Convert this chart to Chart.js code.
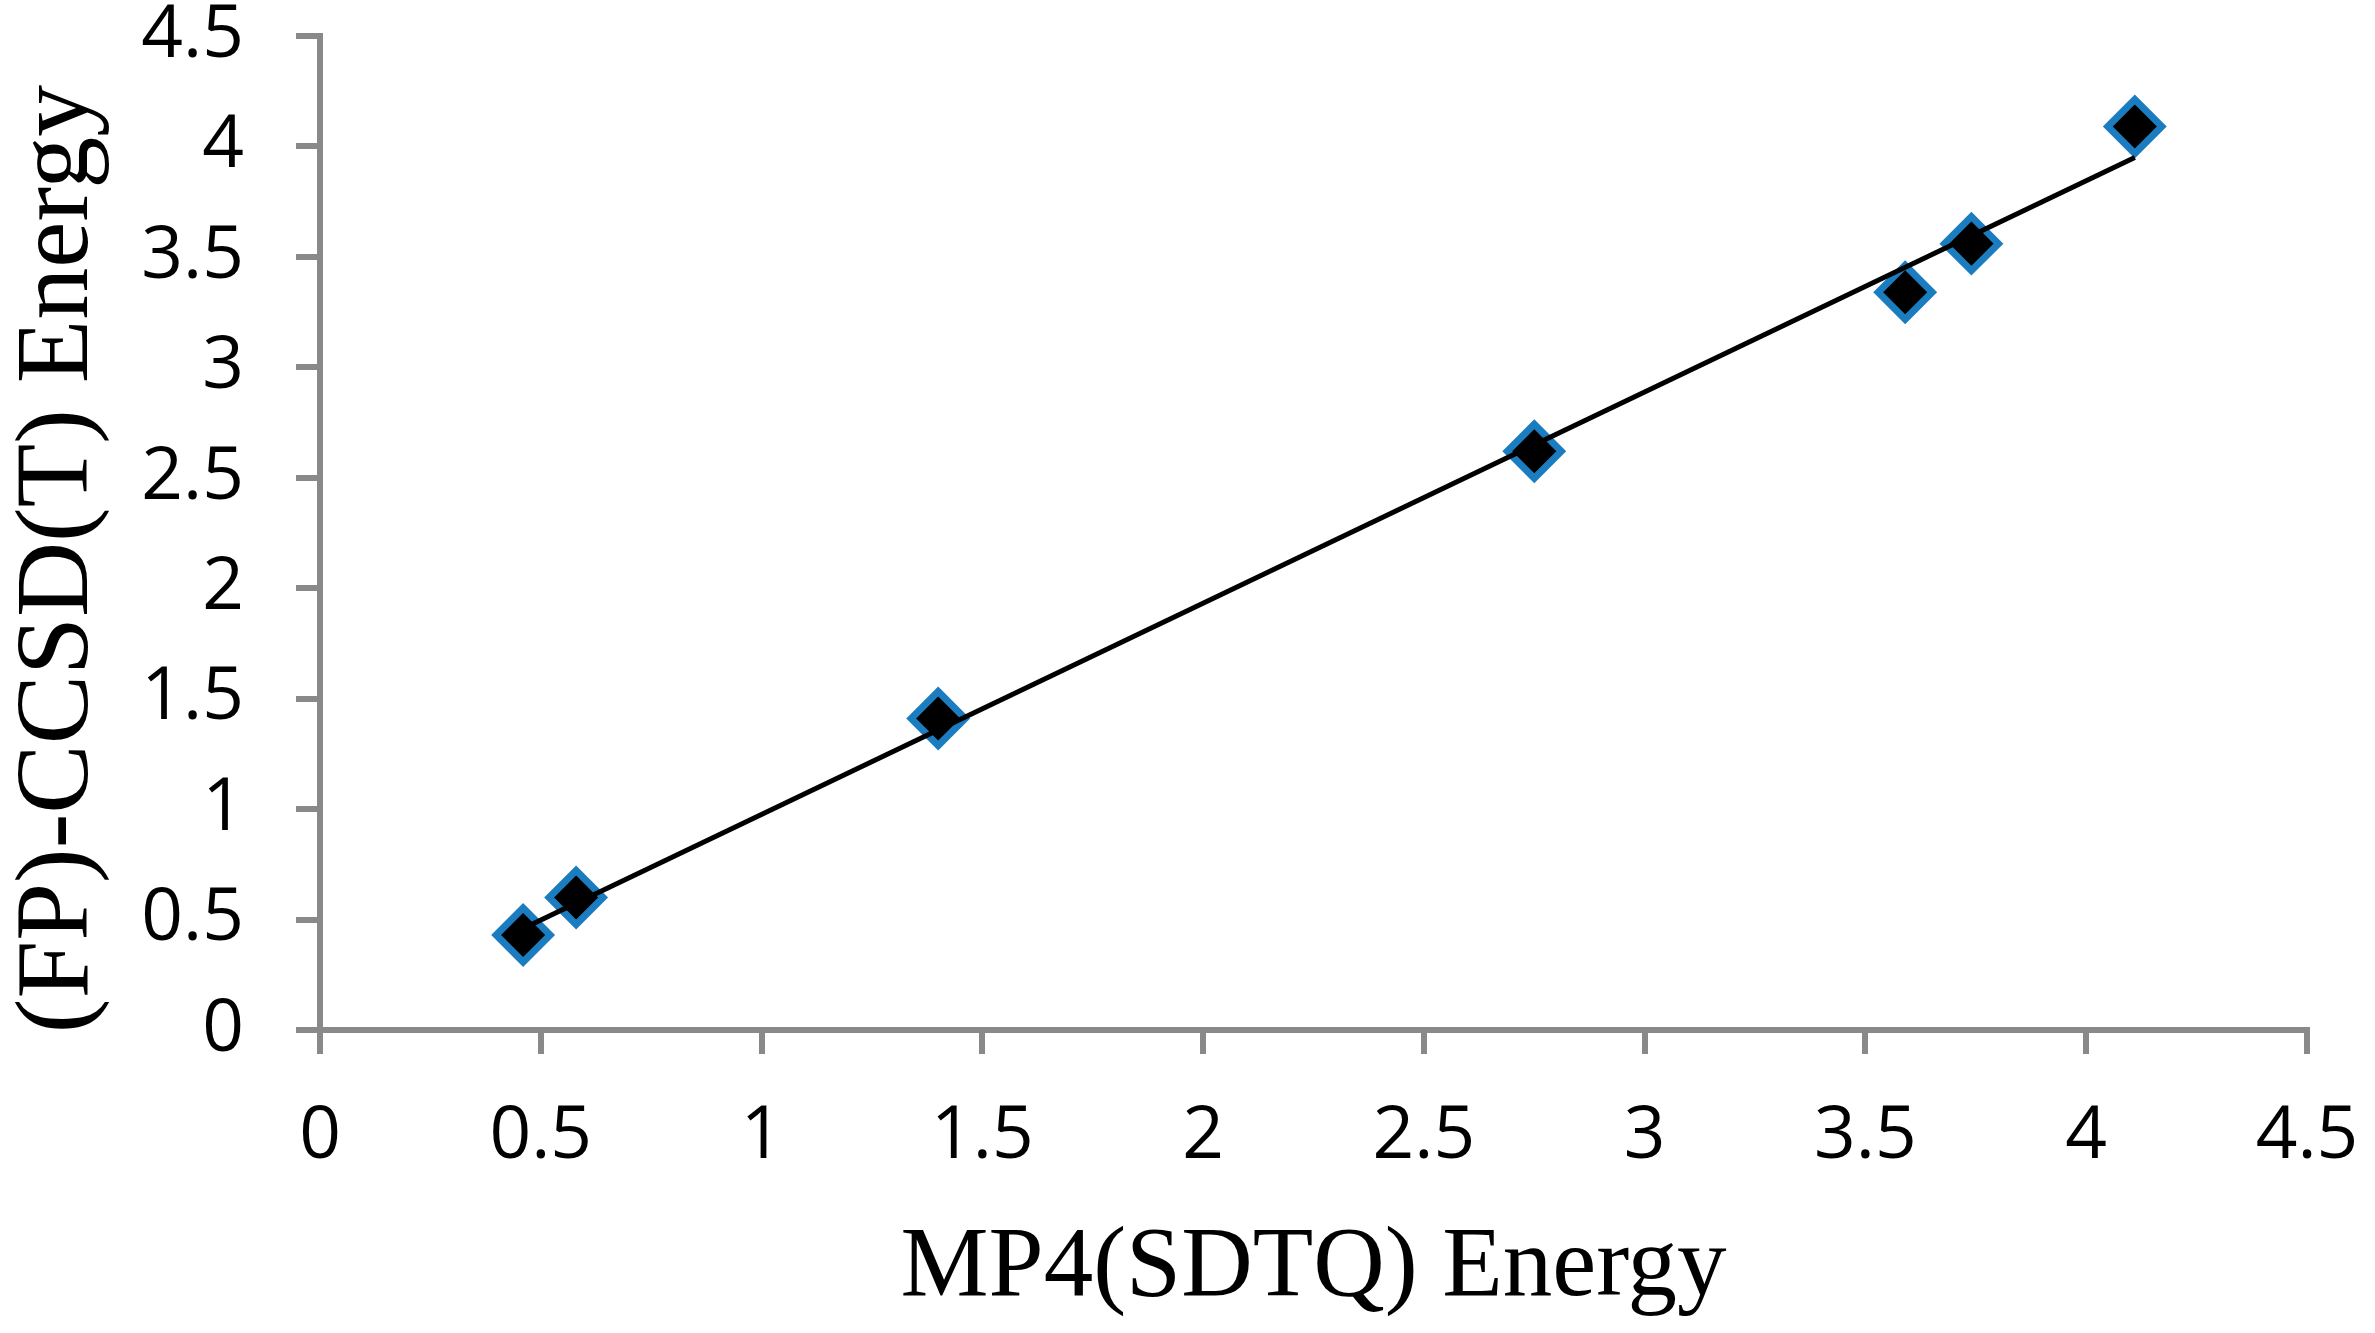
<!DOCTYPE html>
<html>
<head>
<meta charset="utf-8">
<script src="https://cdn.jsdelivr.net/npm/chart.js@4"></script>
<style>
  html, body { margin: 0; padding: 0; background: #fff; }
  #chart { display: block; }
</style>
</head>
<body>
<canvas id="chart" width="2375" height="1333"></canvas>
<script>
// values
const mp4Energy = [0.46, 0.58, 1.40, 2.75, 3.59, 3.74, 4.11];
const fpEnergy = [0.43, 0.60, 1.41, 2.62, 3.34, 3.56, 4.09];

// trend line ends, as drawn in the picture
const trendX = [0.46, 4.11];
const trendY = [0.46, 3.95];

const xTickLabels = ['0', '0.5', '1', '1.5', '2', '2.5', '3', '3.5', '4', '4.5'];
const yTickLabels = ['0', '0.5', '1', '1.5', '2', '2.5', '3', '3.5', '4', '4.5'];

const axisGrey = '#898989';
const tickFont = { family: 'Open Sans', size: 73, lineHeight: 0.9 };

function tickLabel(labels) {
    return (value) => {
        const i = Math.round(value / 0.5);
        return labels[i] !== undefined ? labels[i] : '';
    };
}

const ctx = document.getElementById('chart').getContext('2d');

new Chart(ctx, {
    type: 'scatter',
    data: {
        datasets: [{
            label: 'Trend',
            type: 'line',
            data: trendX.map((x, i) => ({ x: x, y: trendY[i] })),
            borderColor: '#000',
            borderWidth: 5,
            pointRadius: 0,
            fill: false,
            order: 0
        }, {
            label: 'Energy',
            data: mp4Energy.map((x, i) => ({ x: x, y: fpEnergy[i] })),
            pointStyle: 'rectRot',
            pointRadius: 27,
            pointHoverRadius: 27,
            backgroundColor: '#000',
            borderColor: '#1b7dc0',
            borderWidth: 7,
            order: 1
        }]
    },
    options: {
        responsive: false,
        devicePixelRatio: 1,
        animation: false,
        layout: { padding: { left: 0, right: 68, top: 36, bottom: 0 } },
        plugins: {
            legend: { display: false },
            tooltip: { enabled: false }
        },
        scales: {
            x: {
                type: 'linear',
                min: 0,
                max: 4.5,
                ticks: {
                    stepSize: 0.5,
                    color: '#000',
                    font: tickFont,
                    padding: 50,
                    maxRotation: 0,
                    callback: tickLabel(xTickLabels)
                },
                grid: {
                    drawOnChartArea: false,
                    drawTicks: true,
                    tickLength: 24,
                    color: axisGrey,
                    lineWidth: 6
                },
                border: { color: axisGrey, width: 6 },
                title: {
                    display: true,
                    text: 'MP4(SDTQ) Energy',
                    color: '#000',
                    font: { family: 'Liberation Serif', size: 99, lineHeight: 1.2 },
                    padding: { top: 0, bottom: 5 }
                },
                afterFit: (scale) => {
                    scale.height = 303;
                    scale.paddingLeft = 0;
                    scale.paddingRight = 0;
                }
            },
            y: {
                type: 'linear',
                min: 0,
                max: 4.5,
                ticks: {
                    stepSize: 0.5,
                    color: '#000',
                    font: tickFont,
                    padding: 52,
                    callback: tickLabel(yTickLabels)
                },
                grid: {
                    drawOnChartArea: false,
                    drawTicks: true,
                    tickLength: 24,
                    color: axisGrey,
                    lineWidth: 6
                },
                border: { color: axisGrey, width: 6 },
                title: {
                    display: true,
                    text: '(FP)-CCSD(T) Energy  ',
                    color: '#000',
                    font: { family: 'Liberation Serif', size: 104, lineHeight: 1.2 },
                    padding: { top: -3, bottom: 0 }
                },
                afterFit: (scale) => {
                    scale.width = 320;
                    scale.paddingTop = 0;
                    scale.paddingBottom = 0;
                }
            }
        }
    }
});
</script>
</body>
</html>
